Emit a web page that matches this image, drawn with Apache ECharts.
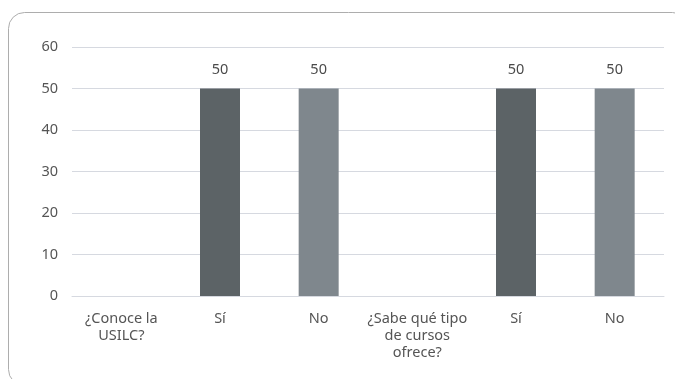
<!DOCTYPE html>
<html>
<head>
<meta charset="utf-8">
<script src="https://cdn.jsdelivr.net/npm/echarts@6/dist/echarts.min.js"></script>
<style>
  html, body { margin: 0; padding: 0; background: #fff; }
  #chart { width: 675px; height: 379px; }
</style>
</head>
<body>
<div id="chart"></div>
<script>
// Survey answers: awareness of USILC and of the courses it offers
const categories = ['¿Conoce la\nUSILC?', 'Sí', 'No', '¿Sabe qué tipo\nde cursos\nofrece?', 'Sí', 'No'];
const values = [null, 50, 50, null, 50, 50];
const barColors = ['#5c6366', '#5c6366', '#7f878d', '#5c6366', '#5c6366', '#7f878d'];
const yTicks = [0, 10, 20, 30, 40, 50, 60];

const chart = echarts.init(document.getElementById('chart'), null, { renderer: 'canvas' });

const fontFamily = '"Noto Sans", "Open Sans", sans-serif';

chart.setOption({
  animation: false,
  backgroundColor: '#ffffff',
  graphic: [{
    type: 'rect',
    shape: { x: 8.5, y: 12.5, width: 680, height: 373, r: 16 },
    style: { fill: 'none', stroke: '#adadad', lineWidth: 1 },
    silent: true,
    z: -1
  }],
  grid: { left: 72, right: 11, top: 47, bottom: 83, containLabel: false },
  xAxis: {
    type: 'category',
    data: categories,
    axisLine: { show: true, lineStyle: { color: '#d6d9e0', width: 1 } },
    axisTick: { show: false },
    axisLabel: {
      color: '#555555',
      fontFamily: fontFamily,
      fontSize: 14.5,
      lineHeight: 17,
      margin: 14,
      interval: 0
    }
  },
  yAxis: {
    type: 'value',
    min: yTicks[0],
    max: yTicks[yTicks.length - 1],
    interval: 10,
    axisLine: { show: false },
    axisTick: { show: false },
    axisLabel: {
      color: '#555555',
      fontFamily: fontFamily,
      fontSize: 14.5,
      margin: 14
    },
    splitLine: { lineStyle: { color: '#d6d9e0', width: 1 } }
  },
  series: [{
    type: 'bar',
    data: values.map((v, i) => ({ value: v, itemStyle: { color: barColors[i] } })),
    barWidth: 40,
    label: {
      show: true,
      position: 'top',
      distance: 11,
      color: '#4a4a4a',
      fontFamily: fontFamily,
      fontSize: 14.5
    }
  }]
});
</script>
</body>
</html>
